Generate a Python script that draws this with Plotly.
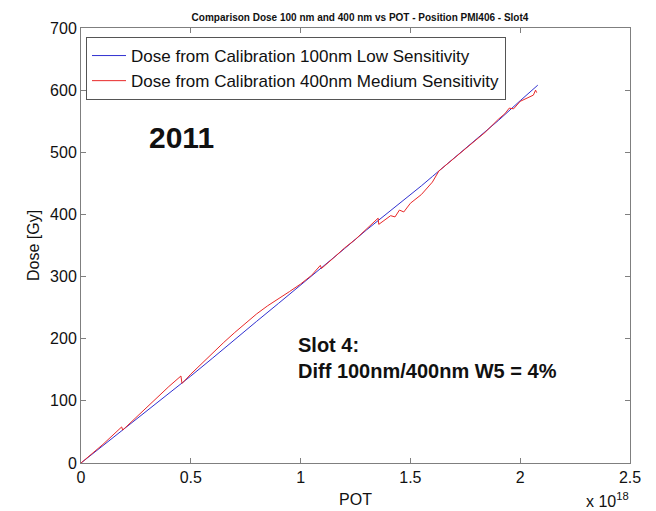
import plotly.graph_objects as go

# POT values in units of 1e18
blue_pot = [0, 0.1, 0.2, 0.3, 0.4, 0.46, 0.5, 0.6, 0.7, 0.8, 0.9, 1.0, 1.1, 1.2, 1.3, 1.35,
            1.4, 1.45, 1.5, 1.55, 1.6, 1.7, 1.8, 1.9, 2.0, 2.08]
blue_dose = [0, 28, 56, 84, 112, 128, 140, 169, 199, 228, 257, 286, 315, 345, 375, 389,
             403, 417, 431, 446, 461, 491, 521, 551, 583, 608]

red_pot = [0, 0.1, 0.185, 0.19, 0.25, 0.3, 0.35, 0.4, 0.455, 0.46, 0.5, 0.55, 0.6, 0.65, 0.7,
           0.75, 0.8, 0.85, 0.9, 0.95, 1.0, 1.05, 1.09, 1.095, 1.15, 1.2, 1.25, 1.3, 1.353,
           1.356, 1.38, 1.41, 1.43, 1.45, 1.47, 1.5, 1.55, 1.6, 1.63, 1.7, 1.75, 1.8, 1.82,
           1.84, 1.9, 1.93, 1.95, 1.97, 2.0, 2.02, 2.04, 2.06, 2.07, 2.075]
red_dose = [0, 30, 58, 53, 73, 90, 107, 123, 140, 128, 143, 160, 178, 194, 210,
            225, 240, 253, 264, 276, 288, 302, 318, 313, 330, 346, 360, 376, 394,
            384, 390, 398, 396, 407, 404, 418, 432, 452, 470, 491, 506, 520, 526,
            532, 553, 562, 571, 570, 582, 585, 588, 592, 600, 596]

title_text = "Comparison Dose 100 nm and 400 nm vs POT - Position PMI406 - Slot4"
blue_name = "Dose from Calibration 100nm Low Sensitivity"
red_name = "Dose from Calibration 400nm Medium Sensitivity"
x_ticks = [0, 0.5, 1, 1.5, 2, 2.5]
x_tick_text = ["0", "0.5", "1", "1.5", "2", "2.5"]
y_ticks = [0, 100, 200, 300, 400, 500, 600, 700]

FONT = "Arial, 'Liberation Sans', sans-serif"

# The page body has an 8px margin, so the figure is 8px smaller than the window.
W, H = 648, 503
ML, MR, MT, MB = 73, 26, 20, 48
PW, PH = W - ML - MR, H - MT - MB

fig = go.Figure()
fig.add_trace(go.Scatter(x=blue_pot, y=blue_dose, mode="lines", name=blue_name,
                         line=dict(color="#3030d0", width=1)))
fig.add_trace(go.Scatter(x=red_pot, y=red_dose, mode="lines", name=red_name,
                         line=dict(color="#e82828", width=1)))

axis_common = dict(showline=True, linecolor="#7f7f7f", linewidth=1, mirror="ticks",
                   ticks="inside", ticklen=5, tickcolor="#7f7f7f", showgrid=False,
                   zeroline=False, automargin=False,
                   tickfont=dict(family=FONT, size=16, color="#111"))

fig.update_layout(
    width=W, height=H,
    margin=dict(l=ML, r=MR, t=MT, b=MB),
    paper_bgcolor="white", plot_bgcolor="white",
    font=dict(family=FONT, color="#111"),
    title=dict(text="<b>" + title_text + "</b>", x=352 / W, xanchor="center",
               y=1 - 9 / H, yanchor="middle", automargin=False,
               font=dict(size=10, color="#111")),
    xaxis=dict(range=[0, 2.5], tickvals=x_ticks, ticktext=x_tick_text,
               title=dict(text="POT", font=dict(size=16), standoff=8), **axis_common),
    yaxis=dict(range=[0, 700], tickvals=y_ticks,
               title=dict(text="Dose [Gy]", font=dict(size=16), standoff=6), **axis_common),
    legend=dict(x=5 / PW, y=1 - 9 / PH, xanchor="left", yanchor="top",
                bordercolor="#555", borderwidth=1, bgcolor="white",
                font=dict(size=17, family=FONT, color="#111"),
                itemwidth=34, tracegroupgap=0),
    showlegend=True,
)

fig.add_annotation(x=0.30, y=523, xref="x", yref="y", text="<b>2011</b>", showarrow=False,
                   xanchor="left", yanchor="middle", font=dict(size=30, color="#111"))
fig.add_annotation(x=0.979, y=169, xref="x", yref="y",
                   text="<b>Slot 4:<br>Diff 100nm/400nm W5 = 4%</b>", showarrow=False,
                   xanchor="left", yanchor="middle", align="left",
                   font=dict(size=20, color="#111"))
fig.add_annotation(x=(PW + 1) / PW, y=-37 / PH, xref="paper", yref="paper",
                   text="x 10<sup>18</sup>", showarrow=False, xanchor="right", yanchor="middle",
                   font=dict(size=16, color="#111"))

fig.write_html("out.html")
